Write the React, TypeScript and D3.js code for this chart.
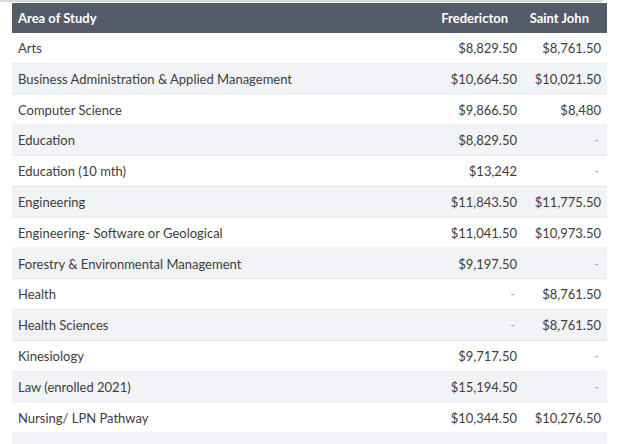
import React, { useRef, useEffect } from "react";
import * as d3 from "d3";

const areas = [
  "Arts",
  "Business Administration & Applied Management",
  "Computer Science",
  "Education",
  "Education (10 mth)",
  "Engineering",
  "Engineering- Software or Geological",
  "Forestry & Environmental Management",
  "Health",
  "Health Sciences",
  "Kinesiology",
  "Law (enrolled 2021)",
  "Nursing/ LPN Pathway",
];
const fredericton: (number | null)[] = [
  8829.5, 10664.5, 9866.5, 8829.5, 13242, 11843.5, 11041.5, 9197.5, null, null,
  9717.5, 15194.5, 10344.5,
];
const saintJohn: (number | null)[] = [
  8761.5, 10021.5, 8480, null, null, 11775.5, 10973.5, null, 8761.5, 8761.5,
  null, null, 10276.5,
];
const headers = ["Area of Study", "Fredericton", "Saint John"];

const fmt = (v: number | null) => {
  if (v == null) return "-";
  return Number.isInteger(v) ? "$" + d3.format(",")(v) : "$" + d3.format(",.2f")(v);
};

const App = () => {
  const ref = useRef<SVGSVGElement>(null);

  useEffect(() => {
    const svg = d3.select(ref.current);
    svg.selectAll("*").remove();

    const W = 620;
    const left = 12;
    const right = 607;
    const headTop = 3;
    const headH = 30;
    const rowH = 30.8;
    const font = "Lato, 'Open Sans', sans-serif";

    // extra partial row at bottom
    const rows = [...areas, "__extra"];
    const y = d3
      .scaleBand()
      .domain(rows)
      .range([headTop + headH, headTop + headH + rows.length * rowH])
      .padding(0);

    svg.append("rect").attr("x", 0).attr("y", 0).attr("width", W).attr("height", 444).attr("fill", "#fff");
    svg.append("rect").attr("x", 0).attr("y", 0).attr("width", 603).attr("height", 2).attr("fill", "#d9dadc");

    // header
    svg
      .append("rect")
      .attr("x", left)
      .attr("y", headTop)
      .attr("width", right - left)
      .attr("height", headH)
      .attr("fill", "#535b66");

    const headX = [18, 508, 589];
    const anchors = ["start", "end", "end"];
    svg
      .selectAll(".head")
      .data(headers)
      .enter()
      .append("text")
      .attr("x", (_, i) => headX[i])
      .attr("y", headTop + headH / 2)
      .attr("dy", "0.35em")
      .attr("text-anchor", (_, i) => anchors[i])
      .attr("font-family", font)
      .attr("font-weight", "bold")
      .attr("font-size", 13)
      .attr("fill", "#fff")
      .text((d) => d);

    const g = svg
      .selectAll(".row")
      .data(rows)
      .enter()
      .append("g")
      .attr("transform", (d) => `translate(0,${y(d)})`);

    g.append("rect")
      .attr("x", left)
      .attr("width", right - left)
      .attr("height", y.bandwidth())
      .attr("fill", (_, i) => (i % 2 === 0 ? "#ffffff" : "#f2f3f6"));

    g.append("line")
      .attr("x1", left)
      .attr("x2", right)
      .attr("y1", y.bandwidth() - 0.5)
      .attr("y2", y.bandwidth() - 0.5)
      .attr("stroke", "#e3e5e8")
      .attr("stroke-width", 1);

    const real = g.filter((d) => d !== "__extra");

    real
      .append("text")
      .attr("x", 18)
      .attr("y", y.bandwidth() / 2)
      .attr("dy", "0.35em")
      .attr("font-family", font)
      .attr("font-size", 13)
      .attr("fill", "#3d3d3d")
      .text((d) => d);

    real
      .append("text")
      .attr("x", (_, i) => (fredericton[i] == null ? 515 : 517))
      .attr("y", y.bandwidth() / 2)
      .attr("dy", "0.35em")
      .attr("text-anchor", "end")
      .attr("font-family", font)
      .attr("font-size", 13)
      .attr("fill", (_, i) => (fredericton[i] == null ? "#aaa" : "#3d3d3d"))
      .text((_, i) => fmt(fredericton[i]));

    real
      .append("text")
      .attr("x", (_, i) => (saintJohn[i] == null ? 599 : 601))
      .attr("y", y.bandwidth() / 2)
      .attr("dy", "0.35em")
      .attr("text-anchor", "end")
      .attr("font-family", font)
      .attr("font-size", 13)
      .attr("fill", (_, i) => (saintJohn[i] == null ? "#aaa" : "#3d3d3d"))
      .text((_, i) => fmt(saintJohn[i]));
  }, []);

  return (
    <svg
      ref={ref}
      width={620}
      height={444}
      style={{ position: "absolute", left: 0, top: 0, display: "block" }}
    />
  );
};

export default App;
